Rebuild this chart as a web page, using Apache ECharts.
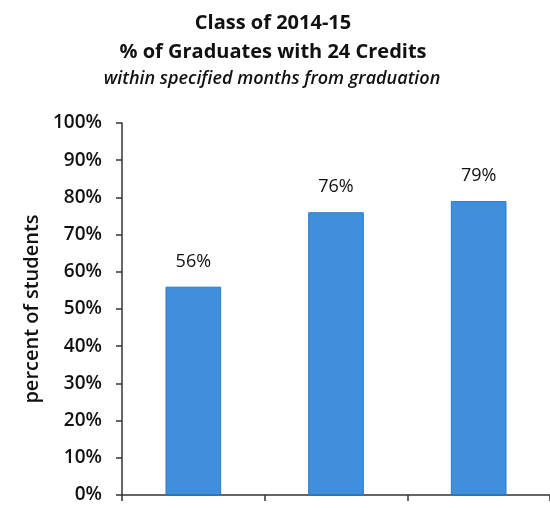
<!DOCTYPE html>
<html>
<head>
<meta charset="utf-8">
<script src="https://cdn.jsdelivr.net/npm/echarts@6/dist/echarts.min.js"></script>
<style>
  html, body { margin: 0; padding: 0; background: #ffffff; }
  #chart { width: 550px; height: 508px; }
</style>
</head>
<body>
<div id="chart"></div>
<script>
// Share of graduates reaching 24 credits, by months after graduation
const categories = ['6 months', '12 months', '18 months'];
const percentValues = [56, 76, 79];
const yTicks = [0, 10, 20, 30, 40, 50, 60, 70, 80, 90, 100];

const FONT = '"Open Sans", "Noto Sans", sans-serif';

const chart = echarts.init(document.getElementById('chart'), null, { renderer: 'canvas' });

chart.setOption({
  backgroundColor: '#ffffff',
  animation: false,
  title: [
    {
      text: 'Class of 2014-15',
      left: 268, top: 8, textAlign: 'center',
      textStyle: { fontFamily: FONT, fontSize: 20, fontWeight: 'bold', color: '#111111' }
    },
    {
      text: '% of Graduates with 24 Credits',
      left: 268, top: 37, textAlign: 'center',
      textStyle: { fontFamily: FONT, fontSize: 20, fontWeight: 'bold', color: '#111111' }
    },
    {
      text: 'within specified months from graduation',
      left: 267, top: 65, textAlign: 'center',
      textStyle: { fontFamily: FONT, fontSize: 18, fontWeight: 600, fontStyle: 'italic', color: '#111111' }
    }
  ],
  grid: { left: 122, right: 0, top: 123, bottom: 13, containLabel: false },
  xAxis: {
    type: 'category',
    data: categories,
    axisLine: { show: true, lineStyle: { color: '#333333', width: 1.5 } },
    axisTick: { show: true, alignWithLabel: false, length: 6, lineStyle: { color: '#333333', width: 1.5 } },
    axisLabel: { show: false },
    splitLine: { show: false }
  },
  yAxis: {
    type: 'value',
    min: yTicks[0],
    max: yTicks[yTicks.length - 1],
    interval: 10,
    name: 'percent of students',
    nameLocation: 'middle',
    nameRotate: 90,
    nameGap: 78,
    nameTextStyle: { fontFamily: FONT, fontSize: 20, fontWeight: 600, color: '#111111' },
    axisLine: { show: true, lineStyle: { color: '#333333', width: 1.5 } },
    axisTick: { show: true, length: 6, lineStyle: { color: '#333333', width: 1.5 } },
    axisLabel: {
      margin: 20,
      fontFamily: FONT, fontSize: 19, fontWeight: 600, color: '#111111',
      formatter: v => v + '%'
    },
    splitLine: { show: false }
  },
  series: [
    {
      type: 'bar',
      data: percentValues,
      barWidth: '39%',
      itemStyle: { color: '#3f8fdd', borderColor: '#2a78c9', borderWidth: 1 },
      label: {
        show: true,
        position: 'top',
        distance: 16,
        fontFamily: FONT, fontSize: 18, fontWeight: 500, color: '#111111',
        formatter: p => p.value + '%'
      }
    }
  ]
});
</script>
</body>
</html>
